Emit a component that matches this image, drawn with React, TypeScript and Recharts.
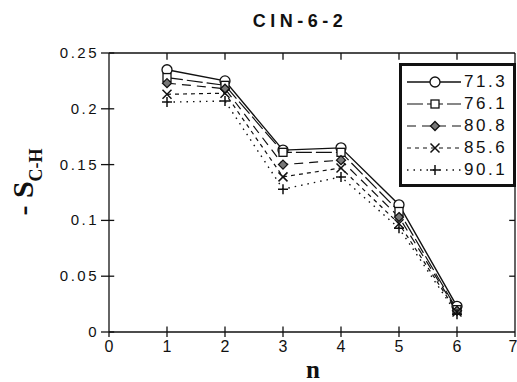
import React from 'react';
import { LineChart, Line, XAxis, YAxis, ReferenceLine } from 'recharts';

const nValues = [1, 2, 3, 4, 5, 6];
const s713 = [0.235, 0.225, 0.163, 0.165, 0.114, 0.023];
const s761 = [0.228, 0.221, 0.161, 0.161, 0.108, 0.020];
const s808 = [0.223, 0.218, 0.150, 0.154, 0.103, 0.019];
const s856 = [0.213, 0.214, 0.139, 0.147, 0.097, 0.018];
const s901 = [0.206, 0.207, 0.128, 0.139, 0.093, 0.016];
const xTicks = [0, 1, 2, 3, 4, 5, 6, 7];
const yTicks = [0, 0.05, 0.1, 0.15, 0.2, 0.25];
const xMax = 7;
const yMax = 0.25;

type Shape = 'circle' | 'square' | 'diamond' | 'cross' | 'plus';

const series: { key: string; name: string; values: number[]; dash: string; shape: Shape; width: number }[] = [
  { key: 'a', name: '71.3', values: s713, dash: '', shape: 'circle', width: 1.4 },
  { key: 'b', name: '76.1', values: s761, dash: '16 4', shape: 'square', width: 1.2 },
  { key: 'c', name: '80.8', values: s808, dash: '9 6', shape: 'diamond', width: 1.2 },
  { key: 'd', name: '85.6', values: s856, dash: '4 4', shape: 'cross', width: 1.2 },
  { key: 'e', name: '90.1', values: s901, dash: '1.5 5', shape: 'plus', width: 1.4 },
];

const data = nValues.map((n, i) => {
  const row: Record<string, number> = { n };
  series.forEach((s) => {
    row[s.key] = s.values[i];
  });
  return row;
});

const Marker = ({ shape, cx, cy }: { shape: Shape; cx: number; cy: number }) => {
  const st = { stroke: '#111', strokeWidth: 1.3, fill: 'white' };
  if (shape === 'circle') return <circle cx={cx} cy={cy} r={5} {...st} />;
  if (shape === 'square') return <rect x={cx - 4} y={cy - 4} width={8} height={8} {...st} />;
  if (shape === 'diamond')
    return (
      <path
        d={`M${cx},${cy - 4.5} L${cx + 4.5},${cy} L${cx},${cy + 4.5} L${cx - 4.5},${cy} Z`}
        stroke="#111"
        strokeWidth={1.3}
        fill="#777"
      />
    );
  if (shape === 'cross')
    return (
      <path
        d={`M${cx - 4.5},${cy - 4.5} L${cx + 4.5},${cy + 4.5} M${cx + 4.5},${cy - 4.5} L${cx - 4.5},${cy + 4.5}`}
        stroke="#111"
        strokeWidth={1.5}
      />
    );
  return (
    <path
      d={`M${cx - 5},${cy} L${cx + 5},${cy} M${cx},${cy - 5} L${cx},${cy + 5}`}
      stroke="#111"
      strokeWidth={1.5}
    />
  );
};

const fontSans = "'Liberation Sans', Arial, sans-serif";
const fontSerif = "'Liberation Serif', 'DejaVu Serif', serif";

// tick labels, drawn by hand to get the wide spacing of the original
const XTick = (props: any) => {
  const { x, y, payload } = props;
  return (
    <text x={x} y={y + 13} textAnchor="middle" fontFamily={fontSans} fontSize={16} fill="#111">
      {payload.value}
    </text>
  );
};

const YTick = (props: any) => {
  const { x, y, payload } = props;
  return (
    <text x={x} y={y + 5} textAnchor="end" fontFamily={fontSans} fontSize={15} letterSpacing={2.5} fill="#111">
      {String(payload.value)}
    </text>
  );
};

const YLabel = () => (
  <text transform="translate(33, 182) rotate(-90)" textAnchor="middle" fontFamily={fontSerif} fontWeight="bold" fill="#111">
    <tspan fontSize={30}>- S</tspan>
    <tspan fontSize={18} dy={9}>C-H</tspan>
  </text>
);

const tickSeg = (a: { x: number; y: number }, b: { x: number; y: number }, key: string) => (
  <ReferenceLine key={key} segment={[a, b]} stroke="#111" strokeWidth={1.3} />
);

export default function App() {
  return (
    <div style={{ position: 'absolute', left: 0, top: 0, width: 517, height: 382, background: 'white' }}>
      <div
        style={{
          position: 'absolute',
          left: 200,
          top: 11,
          width: 200,
          textAlign: 'center',
          fontFamily: fontSans,
          fontWeight: 'bold',
          fontSize: 18,
          letterSpacing: 4.5,
          color: '#111',
        }}
      >
        CIN-6-2
      </div>
      <LineChart width={517} height={382} data={data} margin={{ top: 53, right: 2, left: 0, bottom: 0 }}>
        <XAxis
          dataKey="n"
          type="number"
          domain={[0, xMax]}
          ticks={xTicks}
          tick={<XTick />}
          height={50}
          tickSize={5}
          stroke="#111"
          strokeWidth={1.3}
          allowDataOverflow
        />
        <YAxis
          type="number"
          domain={[0, yMax]}
          ticks={yTicks}
          tick={<YTick />}
          width={109}
          tickSize={8}
          stroke="#111"
          strokeWidth={1.3}
          allowDataOverflow
        />
        {/* frame: top and right edges, plus small inward ticks on all sides */}
        <ReferenceLine y={yMax} stroke="#111" strokeWidth={1.3} />
        <ReferenceLine x={xMax} stroke="#111" strokeWidth={1.3} />
        {xTicks.slice(1, -1).map((t) => tickSeg({ x: t, y: yMax }, { x: t, y: yMax - 0.006 }, `tx${t}`))}
        {xTicks.slice(1, -1).map((t) => tickSeg({ x: t, y: 0 }, { x: t, y: 0.005 }, `bx${t}`))}
        {yTicks.slice(1, -1).map((t) => tickSeg({ x: xMax, y: t }, { x: xMax - 0.1, y: t }, `ry${t}`))}
        {yTicks.map((t) => tickSeg({ x: 0, y: t }, { x: 0.09, y: t }, `ly${t}`))}
        {series.map((s) => (
          <Line
            key={s.key}
            dataKey={s.key}
            name={s.name}
            stroke="#111"
            strokeWidth={s.width}
            strokeDasharray={s.dash || undefined}
            isAnimationActive={false}
            dot={(p: any) => (
              <g key={`${s.key}-${p.index}`}>
                <Marker shape={s.shape} cx={p.cx} cy={p.cy} />
              </g>
            )}
            activeDot={false}
          />
        ))}
        <YLabel />
        <text x={313} y={378} textAnchor="middle" fontFamily={fontSerif} fontWeight="bold" fontSize={25} fill="#111">
          n
        </text>
      </LineChart>
      <div
        style={{
          position: 'absolute',
          left: 399,
          top: 63,
          width: 117,
          height: 124,
          border: '3px solid #111',
          background: 'white',
          paddingTop: 5,
          boxSizing: 'border-box',
        }}
      >
        {series.map((s) => (
          <div key={s.key} style={{ display: 'flex', alignItems: 'center', height: 22 }}>
            <svg width={58} height={20} style={{ marginLeft: 3 }}>
              <line x1={2} x2={56} y1={10} y2={10} stroke="#111" strokeWidth={s.width} strokeDasharray={s.dash || undefined} />
              <Marker shape={s.shape} cx={30} cy={10} />
            </svg>
            <span style={{ fontFamily: fontSans, fontSize: 17, letterSpacing: 2.5, color: '#111', marginLeft: 1 }}>
              {s.name}
            </span>
          </div>
        ))}
      </div>
    </div>
  );
}
